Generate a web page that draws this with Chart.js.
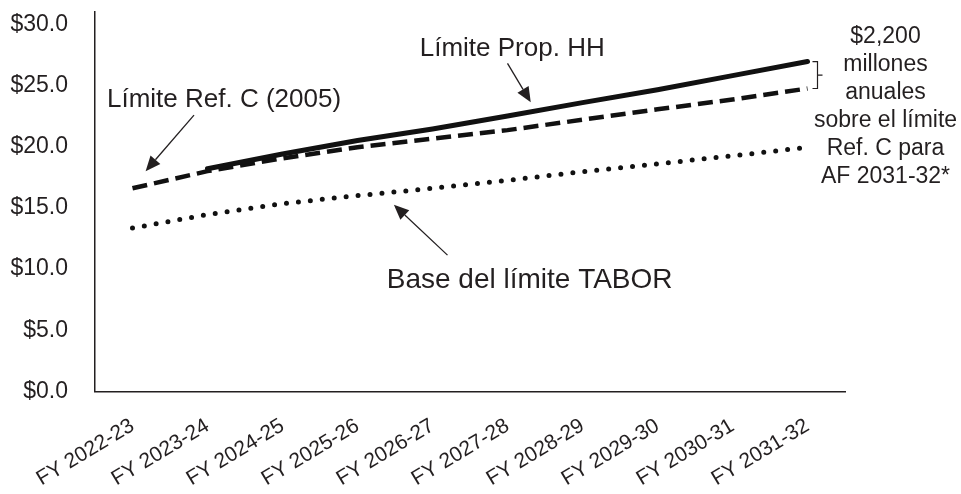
<!DOCTYPE html>
<html>
<head>
<meta charset="utf-8">
<script src="https://cdn.jsdelivr.net/npm/chart.js@4/dist/chart.umd.min.js"></script>
<style>
html,body{margin:0;padding:0;background:#fff;}
#wrap{width:961px;height:494px;}
</style>
</head>
<body>
<div id="wrap"><canvas id="c" width="961" height="494"></canvas></div>
<script>
// ---- data ----
const categories = ["FY 2022-23","FY 2023-24","FY 2024-25","FY 2025-26","FY 2026-27","FY 2027-28","FY 2028-29","FY 2029-30","FY 2030-31","FY 2031-32"];
const propHH   = [null, 18.2, 19.4, 20.5, 21.45, 22.5, 23.6, 24.65, 25.8, 26.95];
const refC     = [16.6, 18.0, 19.05, 19.95, 20.65, 21.35, 22.2, 23.05, 23.85, 24.75];
const taborBase= [13.35, 14.45, 15.35, 16.0, 16.6, 17.25, 17.95, 18.6, 19.25, 19.95];
const yTicks   = [0, 5, 10, 15, 20, 25, 30];
const noteLines = ["$2,200","millones","anuales","sobre el límite","Ref. C para","AF 2031-32*"];

const INK = '#231f20';
const FONT = "'Liberation Sans', Arial, sans-serif";

function arrow(ctx, x1, y1, x2, y2) {
  const ang = Math.atan2(y2 - y1, x2 - x1);
  const L = 15, W = 6.5;
  const bx = x2 - L * Math.cos(ang), by = y2 - L * Math.sin(ang);
  ctx.beginPath();
  ctx.moveTo(x1, y1);
  ctx.lineTo(bx, by);
  ctx.lineWidth = 1.3;
  ctx.strokeStyle = INK;
  ctx.stroke();
  ctx.beginPath();
  ctx.moveTo(x2, y2);
  ctx.lineTo(bx + W * Math.sin(ang), by - W * Math.cos(ang));
  ctx.lineTo(bx - W * Math.sin(ang), by + W * Math.cos(ang));
  ctx.closePath();
  ctx.fillStyle = INK;
  ctx.fill();
}

const annotations = {
  id: 'annotations',
  afterDatasetsDraw(chart) {
    const ctx = chart.ctx;
    const xs = chart.scales.x, ys = chart.scales.y;
    const X = v => xs.getPixelForValue(v);
    const Y = v => ys.getPixelForValue(v);
    ctx.save();
    ctx.fillStyle = INK;
    ctx.textBaseline = 'middle';
    ctx.textAlign = 'left';

    ctx.font = "26px " + FONT;
    ctx.fillText("Límite Ref. C (2005)", X(-0.34), Y(23.8));
    ctx.fillText("Límite Prop. HH", X(3.83), Y(28.0));
    ctx.font = "28px " + FONT;
    ctx.fillText("Base del límite TABOR", X(3.39), Y(9.1));

    arrow(ctx, X(0.82), Y(22.57), X(0.175), Y(18.0));
    arrow(ctx, X(5.0), Y(26.8), X(5.31), Y(23.63));
    arrow(ctx, X(4.2), Y(11.14), X(3.485), Y(15.25));

    // right-hand note
    ctx.textAlign = 'center';
    ctx.font = "23px " + FONT;
    const cx = X(10.04);
    const y0 = Y(29.0);
    noteLines.forEach((t, i) => ctx.fillText(t, cx, y0 + i * 28));

    // bracket between last values
    const last = categories.length - 1;
    const bx = X(last) + 5;
    const yt = Y(propHH[last]), yb = Y(refC[last]);
    const ym = (yt + yb) / 2;
    ctx.beginPath();
    ctx.moveTo(bx, yt); ctx.lineTo(bx + 5, yt); ctx.lineTo(bx + 5, yb); ctx.lineTo(bx, yb);
    ctx.moveTo(bx + 5, ym); ctx.lineTo(bx + 10, ym);
    ctx.lineWidth = 1.2;
    ctx.strokeStyle = INK;
    ctx.stroke();
    ctx.restore();
  }
};

new Chart(document.getElementById('c'), {
  type: 'line',
  data: {
    labels: categories,
    datasets: [
      { label: 'Límite Prop. HH', data: propHH, borderColor: '#111', borderWidth: 5, pointRadius: 0, tension: 0, borderCapStyle: 'round', spanGaps: false },
      { label: 'Límite Ref. C (2005)', data: refC, borderColor: '#111', borderWidth: 4.5, borderDash: [15, 7], pointRadius: 0, tension: 0, borderCapStyle: 'butt' },
      { label: 'Base del límite TABOR', data: taborBase, borderColor: '#111', borderWidth: 5, borderDash: [0, 12], pointRadius: 0, tension: 0, borderCapStyle: 'round' }
    ]
  },
  options: {
    responsive: false,
    devicePixelRatio: 1,
    animation: false,
    layout: { padding: { left: 0, right: 116, top: 12, bottom: 0 } },
    plugins: { legend: { display: false }, tooltip: { enabled: false } },
    scales: {
      x: {
        offset: true,
        grid: { display: false, drawTicks: false },
        border: { display: true, color: INK, width: 1.5 },
        ticks: { color: INK, font: { family: FONT, size: 21 }, maxRotation: 31, minRotation: 31, autoSkip: false, padding: 22 },
        afterFit(s) { s.height = 102.5; s.paddingLeft = 0; s.paddingRight = 0; }
      },
      y: {
        min: 0, max: 31,
        grid: { display: false, drawTicks: false },
        border: { display: true, color: INK, width: 1.5 },
        afterBuildTicks(s) { s.ticks = yTicks.map(v => ({ value: v })); },
        ticks: { color: INK, font: { family: FONT, size: 23 }, padding: 27, callback: v => '$' + Number(v).toFixed(1) },
        afterFit(s) { s.width = 95; s.paddingTop = 0; s.paddingBottom = 0; }
      }
    }
  },
  plugins: [annotations]
});
</script>
</body>
</html>
